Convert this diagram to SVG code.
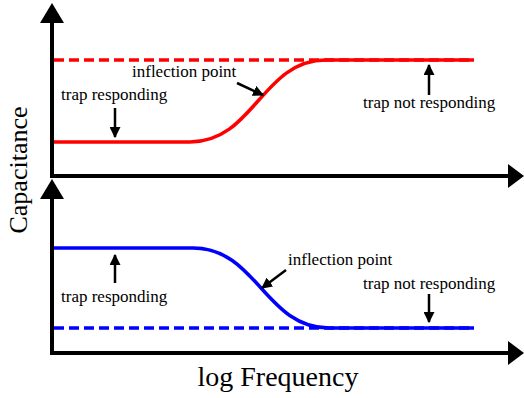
<svg xmlns="http://www.w3.org/2000/svg" width="524" height="398" viewBox="0 0 524 398">
<defs>
<style>
.ax{stroke:#000;stroke-width:4;fill:none}
.ah{fill:#000}
.red{stroke:#ff0000;stroke-width:3.5;fill:none}
.blue{stroke:#0000ff;stroke-width:3.5;fill:none}
.dash{stroke-dasharray:10,5}
.pt{stroke:#000;stroke-width:2.5;fill:none}
</style>
<marker id="arr" viewBox="0 0 10 10" refX="9" refY="5" markerWidth="4.4" markerHeight="4.4" orient="auto" markerUnits="strokeWidth">
<path d="M0,0 L10,5 L0,10 Z" fill="#000"/>
</marker>
</defs>
<rect width="524" height="398" fill="#fff"/>
<g id="axes">
<path class="ax" d="M52,22 V176 H510"/>
<path class="ah" d="M52,3 L40,23 L64,23 Z"/>
<path class="ah" d="M524,176 L508,164 L508,188 Z"/>
<path class="ax" d="M52,198 V353 H510"/>
<path class="ah" d="M52,179 L40,199 L64,199 Z"/>
<path class="ah" d="M524,353 L508,341 L508,365 Z"/>
</g>
<g id="top-plot">
<path class="red dash" d="M54,60 H474"/>
<path class="red" d="M54,142 H190 C254,142 262,60 326,60 H474"/>
</g>
<g id="bottom-plot">
<path class="blue dash" d="M54,328 H474"/>
<path class="blue" d="M54,248 H193 C257,248 265,328 329,328 H474"/>
</g>
<g id="connectors">
<line class="pt" x1="115" y1="108" x2="115" y2="137" marker-end="url(#arr)"/>
<line class="pt" x1="237" y1="83" x2="263" y2="95" marker-end="url(#arr)"/>
<line class="pt" x1="429" y1="95" x2="429" y2="65" marker-end="url(#arr)"/>
<line class="pt" x1="115" y1="283" x2="115" y2="255" marker-end="url(#arr)"/>
<line class="pt" x1="286" y1="270" x2="262" y2="288" marker-end="url(#arr)"/>
<line class="pt" x1="429" y1="294" x2="429" y2="322" marker-end="url(#arr)"/>
</g>
<g id="labels" font-family="'Liberation Serif', 'DejaVu Serif', serif" fill="#000">
<g font-size="17">
<text x="132" y="77">inflection point</text>
<text x="61" y="100">trap responding</text>
<text x="363" y="108">trap not responding</text>
<text x="288" y="265">inflection point</text>
<text x="61" y="302">trap responding</text>
<text x="363" y="289">trap not responding</text>
</g>
<text font-size="28" x="278" y="386" text-anchor="middle">log Frequency</text>
<text font-size="26" transform="translate(27,170) rotate(-90)" text-anchor="middle">Capacitance</text>
</g>
</svg>
